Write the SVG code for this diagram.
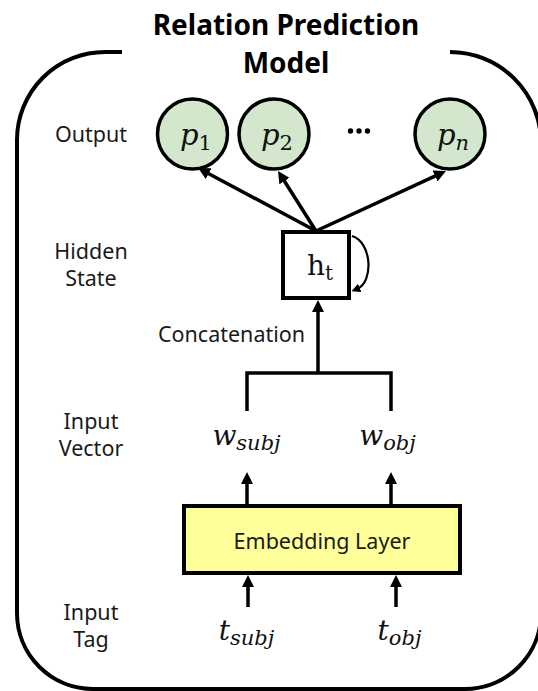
<svg xmlns="http://www.w3.org/2000/svg" width="538" height="691" viewBox="0 0 538 691">
  <style>
    .frame { fill: none; stroke: #000; stroke-width: 4; }
    .lbl { font-family: "Noto Sans", "Open Sans", sans-serif; font-size: 21.5px; fill: #1a1a1a; text-anchor: middle; }
    .title { font-family: "Noto Sans", "Open Sans", sans-serif; font-size: 28px; font-weight: bold; fill: #000; text-anchor: middle; }
    .math { font-family: "DejaVu Serif", "Liberation Serif", serif; font-style: italic; fill: #111; text-anchor: middle; }
    .up { font-style: normal; }
    .circ { fill: #d3e7cd; stroke: #000; stroke-width: 3.5; }
    .box { stroke: #000; stroke-width: 4; }
    .conn { fill: none; stroke: #000; stroke-width: 3.5; }
    .loop { fill: none; stroke: #000; stroke-width: 2.2; }
  </style>
  <defs>
    <marker id="arrow" markerUnits="userSpaceOnUse" markerWidth="12" markerHeight="12" refX="4" refY="6" orient="auto">
      <path d="M0,0 L12,6 L0,12 z" fill="#000"/>
    </marker>
    <marker id="arrowSmall" markerUnits="userSpaceOnUse" markerWidth="9" markerHeight="9" refX="3" refY="4.5" orient="auto">
      <path d="M0,0 L9,4.5 L0,9 z" fill="#000"/>
    </marker>
  </defs>

  <rect width="538" height="691" fill="#fff"/>

  <!-- outer frame, open at the top where the title sits -->
  <path class="frame" d="M122,52 L105,52 A88,88 0 0 0 17,140 L17,613 A76,76 0 0 0 93,689 L465,689 A76,76 0 0 0 541,613 L541,143 A91,91 0 0 0 450,52"/>

  <g id="title">
    <text class="title" x="286" y="35">Relation Prediction</text>
    <text class="title" x="286" y="73">Model</text>
  </g>

  <!-- row labels -->
  <g id="row-labels">
    <text class="lbl" x="91" y="142">Output</text>
    <text class="lbl" x="91" y="259">Hidden</text>
    <text class="lbl" x="91" y="286">State</text>
    <text class="lbl" x="91" y="429">Input</text>
    <text class="lbl" x="91" y="456">Vector</text>
    <text class="lbl" x="91" y="620">Input</text>
    <text class="lbl" x="91" y="647">Tag</text>
  </g>

  <!-- connectors -->
  <g id="connectors">
    <line class="conn" x1="316" y1="231" x2="205.1" y2="171.7" marker-end="url(#arrow)"/>
    <line class="conn" x1="316" y1="231" x2="282.3" y2="177.7" marker-end="url(#arrow)"/>
    <line class="conn" x1="316" y1="231" x2="438.7" y2="174.3" marker-end="url(#arrow)"/>
    <path class="loop" d="M352,236 C372,242 374,282 357,289" marker-end="url(#arrowSmall)"/>
    <line class="conn" x1="318" y1="373" x2="318" y2="308" marker-end="url(#arrow)"/>
    <polyline class="conn" points="247,411 247,373 391,373 391,411"/>
    <line class="conn" x1="247" y1="506" x2="247" y2="480" marker-end="url(#arrow)"/>
    <line class="conn" x1="391" y1="506" x2="391" y2="480" marker-end="url(#arrow)"/>
    <line class="conn" x1="248" y1="607" x2="248" y2="583" marker-end="url(#arrow)"/>
    <line class="conn" x1="396" y1="607" x2="396" y2="583" marker-end="url(#arrow)"/>
    <text class="lbl" x="231.5" y="342">Concatenation</text>
  </g>

  <!-- output nodes -->
  <g id="p1">
    <circle class="circ" cx="192.5" cy="134" r="35"/>
    <text class="math" x="196" y="145" font-size="29">p<tspan class="up" font-size="21" dy="5">1</tspan></text>
  </g>
  <g id="p2">
    <circle class="circ" cx="274" cy="134" r="35"/>
    <text class="math" x="277" y="145" font-size="29">p<tspan class="up" font-size="21" dy="5">2</tspan></text>
  </g>
  <g id="ellipsis">
    <circle cx="350.5" cy="131" r="2.7" fill="#000"/>
    <circle cx="359" cy="131" r="2.7" fill="#000"/>
    <circle cx="367.5" cy="131" r="2.7" fill="#000"/>
  </g>
  <g id="pn">
    <circle class="circ" cx="450" cy="134" r="35"/>
    <text class="math" x="453" y="145" font-size="29">p<tspan font-size="21" dy="5">n</tspan></text>
  </g>

  <!-- hidden state -->
  <g id="hidden">
    <rect class="box" x="283" y="232" width="66" height="66" fill="#fff"/>
    <text class="math up" x="320" y="275" font-size="28">h<tspan font-size="20" dy="5">t</tspan></text>
  </g>

  <!-- input vectors -->
  <g id="w-subj">
    <text class="math" x="246.5" y="445" font-size="28">w<tspan font-size="21" dy="5">subj</tspan></text>
  </g>
  <g id="w-obj">
    <text class="math" x="387.5" y="445" font-size="28">w<tspan font-size="21" dy="5">obj</tspan></text>
  </g>

  <!-- embedding layer -->
  <g id="embedding">
    <rect class="box" x="184" y="506" width="276" height="67" fill="#ffff99"/>
    <text class="lbl" x="322" y="549">Embedding Layer</text>
  </g>

  <!-- input tags -->
  <g id="t-subj">
    <text class="math" x="246.5" y="640" font-size="28">t<tspan font-size="21" dy="5">subj</tspan></text>
  </g>
  <g id="t-obj">
    <text class="math" x="399.5" y="640" font-size="28">t<tspan font-size="21" dy="5">obj</tspan></text>
  </g>
</svg>
